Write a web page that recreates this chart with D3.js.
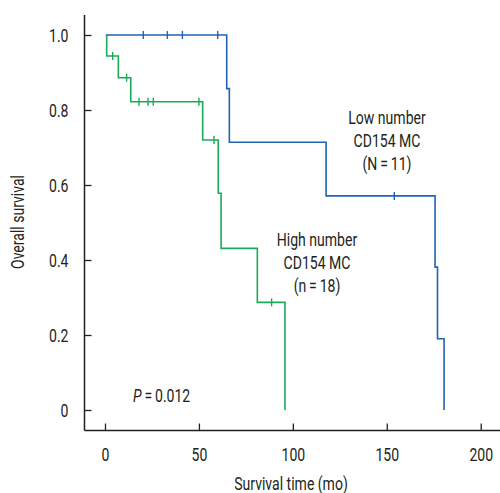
<!DOCTYPE html>
<html>
<head>
<meta charset="utf-8">
<script src="https://cdn.jsdelivr.net/npm/d3@7"></script>
<style>
  body { margin: 0; background: #fff; }
  svg text { font-family: Roboto, "Noto Sans", sans-serif; fill: #231f20; font-size: 18px; }
</style>
</head>
<body>
<svg width="500" height="493"></svg>
<script>
// Kaplan-Meier steps: [time, survival after the step]
const lowSteps = [[0.5, 1.0], [64.8, 0.857], [66.2, 0.714], [117.7, 0.571], [175.7, 0.381], [177, 0.190], [180.5, 0]];
const lowCensor = [[20.4, 1.0], [33.2, 1.0], [41.2, 1.0], [60, 1.0], [154, 0.571]];
const highSteps = [[0.9, 1.0], [0.9, 0.944], [7.1, 0.886], [13.7, 0.822], [52, 0.72], [60.3, 0.578], [61.8, 0.431], [81.1, 0.287], [95.8, 0]];
const highCensor = [[4.1, 0.944], [11.5, 0.886], [18.1, 0.822], [22.9, 0.822], [25.7, 0.822], [50, 0.822], [58, 0.72], [88.7, 0.287]];
const xTicks = [0, 50, 100, 150, 200];
const yTicks = [0, 0.2, 0.4, 0.6, 0.8, 1.0];

const svg = d3.select("svg");
const x = d3.scaleLinear().domain([0, 200]).range([105, 480.7]);
const y = d3.scaleLinear().domain([0, 1]).range([410, 35]);
const axisX = 84.5, axisY = 430.5;
const squeeze = 0.78; // reference font is a condensed face

// place a horizontally condensed text at (px, py)
function label(parent, px, py, str, anchor = "middle", rot = 0) {
  return parent.append("g").attr("transform", `translate(${px},${py}) rotate(${rot})`)
    .append("text").attr("transform", `scale(${squeeze},1)`)
    .attr("text-anchor", anchor).text(str);
}

// axes lines
svg.append("line").attr("x1", axisX).attr("x2", axisX).attr("y1", 15).attr("y2", axisY)
  .attr("stroke", "#231f20").attr("stroke-width", 1.5);
svg.append("line").attr("x1", axisX).attr("x2", 500).attr("y1", axisY).attr("y2", axisY)
  .attr("stroke", "#231f20").attr("stroke-width", 1.5);

// y ticks point inward
const yAxis = svg.append("g").attr("transform", `translate(${axisX},0)`)
  .call(d3.axisRight(y).tickValues(yTicks).tickSize(7).tickFormat(d => d === 0 ? "0" : d3.format(".1f")(d)));
yAxis.select(".domain").remove();
yAxis.selectAll("line").attr("stroke", "#231f20").attr("stroke-width", 1.3);
yAxis.selectAll("text").attr("x", -16 / squeeze).attr("text-anchor", "end").attr("dy", "0.36em")
  .attr("transform", `scale(${squeeze},1)`).style("font-size", "18px");

const xAxis = svg.append("g").attr("transform", `translate(0,${axisY})`)
  .call(d3.axisTop(x).tickValues(xTicks).tickSize(7));
xAxis.select(".domain").remove();
xAxis.selectAll("line").attr("stroke", "#231f20").attr("stroke-width", 1.3);
xAxis.selectAll("text").attr("y", 31).attr("dy", 0)
  .attr("transform", `scale(${squeeze},1)`).style("font-size", "18px");

// axis titles
label(svg, 291, 490, "Survival time (mo)");
label(svg, 24, 222, "Overall survival", "middle", -90);

function drawCurve(steps, censor, color) {
  const pts = [[steps[0][0], 1.0]];
  let prev = 1.0;
  steps.forEach(([t, s]) => { pts.push([t, prev]); pts.push([t, s]); prev = s; });
  svg.append("path")
    .attr("d", d3.line().x(d => x(d[0])).y(d => y(d[1]))(pts))
    .attr("fill", "none").attr("stroke", color).attr("stroke-width", 1.6);
  svg.selectAll(null).data(censor).join("line")
    .attr("x1", d => x(d[0])).attr("x2", d => x(d[0]))
    .attr("y1", d => y(d[1]) - 4).attr("y2", d => y(d[1]) + 4)
    .attr("stroke", color).attr("stroke-width", 1.4);
}
drawCurve(highSteps, highCensor, "#1aab58");
drawCurve(lowSteps, lowCensor, "#1f63b3");

// group labels
const lowLabel = ["Low number", "CD154 MC", "(N\u2009=\u200911)"];
const highLabel = ["High number", "CD154 MC", "(n\u2009=\u200918)"];
lowLabel.forEach((s, i) => label(svg, 387, 124 + i * 23, s));
highLabel.forEach((s, i) => label(svg, 317, 246 + i * 23, s));

const p = label(svg, 133, 402, "", "start");
p.append("tspan").style("font-style", "italic").text("P");
p.append("tspan").text("\u2009=\u20090.012");
</script>
</body>
</html>
